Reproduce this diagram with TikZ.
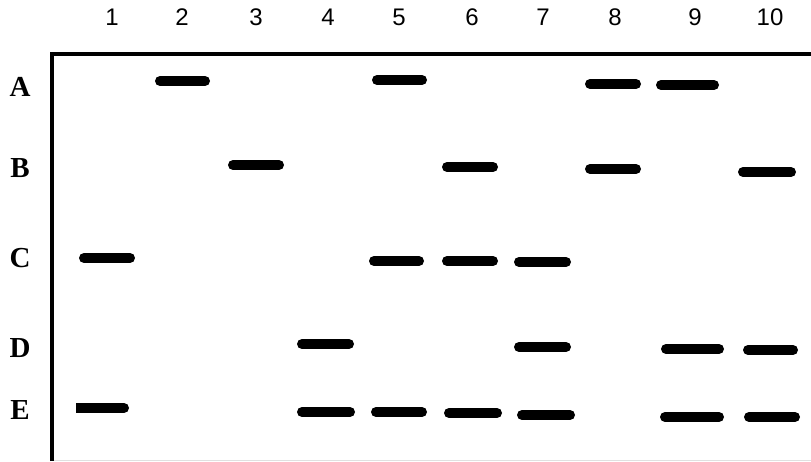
\documentclass[tikz,border=0pt]{standalone}
\usepackage{fontspec}
\setmainfont{Liberation Serif}
\newfontfamily\lanefont{Liberation Sans}

\tikzset{
    band/.style={line width=10pt, line cap=round},
    lanelabel/.style={font=\lanefont\fontsize{24}{26}\selectfont},
    rowlabel/.style={font=\bfseries\fontsize{29}{30}\selectfont},
}

\begin{document}
\begin{tikzpicture}[x=1pt,y=-1pt]
    \useasboundingbox (0,0) rectangle (811,461);

    % Draw gel frame
    \draw[line width=4pt] (52,461) -- (52,54) -- (811,54);
    \draw[black!12, line width=1pt] (54,460) -- (811,460);

    % Beschriftung der Spuren
    \foreach \n/\x in {1/112, 2/182, 3/256, 4/328, 5/399, 6/472, 7/543, 8/615, 9/695, 10/770} {
        \node[lanelabel] (lane\n) at (\x,17) {\n};
    }

    % Beschriftung der Zeilen
    \foreach \r/\y in {A/87, B/168, C/258, D/348, E/410} {
        \node[rowlabel] (row\r) at (20,\y) {\r};
    }

    % Die Banden zeichnen
    \foreach \xa/\xb/\y in {155/210/81, 372/427/80, 585/641/84, 656/719/85,
                            228/284/165, 442/498/167, 585/641/169, 738/796/172,
                            79/135/258, 369/424/261, 442/498/261, 514/571/262,
                            297/354/344, 514/571/347, 661/724/349, 743/798/350,
                            297/355/412, 371/427/412, 444/502/413, 517/575/415, 660/724/417, 744/800/417} {
        \draw[band] (\xa+5,\y) -- (\xb-5,\y);
    }

    % lane 1, row E has a square left end
    \draw[band] (81,408) -- (124,408);
    \fill (76,403) rectangle (86,413);
\end{tikzpicture}
\end{document}
